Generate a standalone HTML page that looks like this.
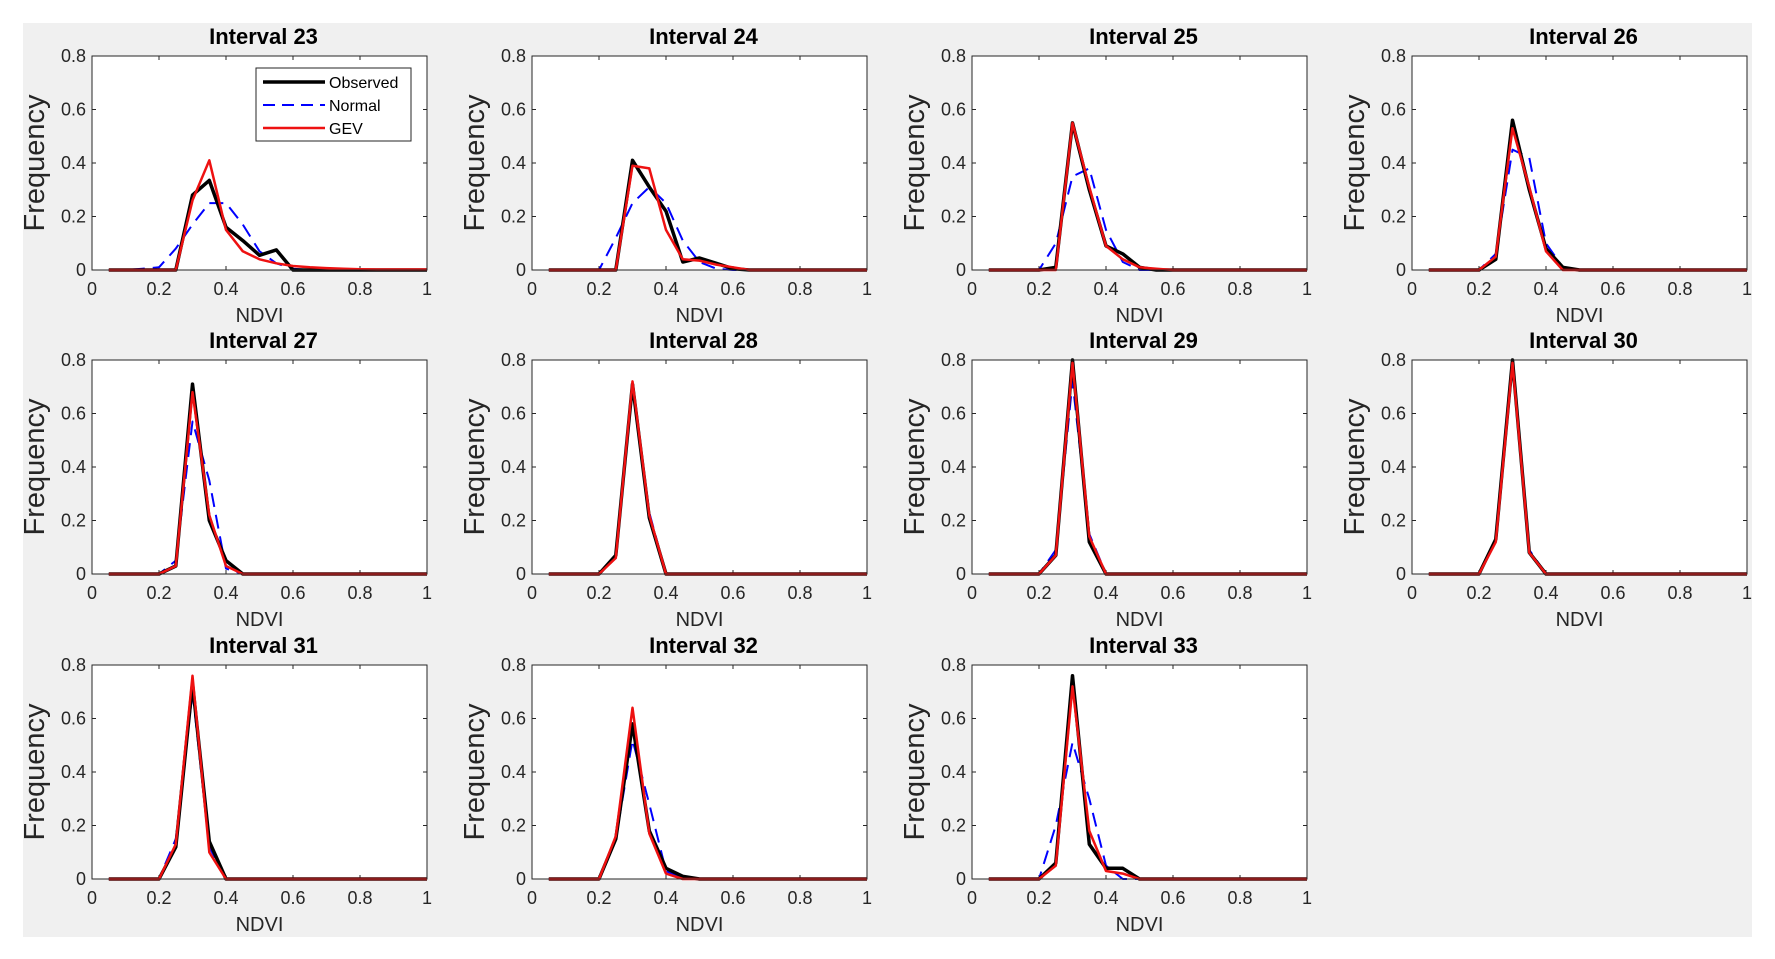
<!DOCTYPE html>
<html><head><meta charset="utf-8"><style>
html,body{margin:0;padding:0;background:#fff;}
svg{display:block;font-family:"Liberation Sans",Arial,sans-serif;}
</style></head><body>
<svg id="chart" width="1775" height="959" viewBox="0 0 1775 959" xmlns="http://www.w3.org/2000/svg">
<rect x="23" y="23" width="1729" height="914" fill="#f0f0f0"/>
</svg>
<script>
const xValues=[0.05,0.1,0.15,0.2,0.25,0.3,0.35,0.4,0.45,0.5,0.55,0.6,0.65,0.7,0.75,0.8,0.85,0.9,0.95,1.0];
const intervals=[23,24,25,26,27,28,29,30,31,32,33];
const xTicks=[0,0.2,0.4,0.6,0.8,1];
const xTickLabels=["0","0.2","0.4","0.6","0.8","1"];
const yTicks=[0,0.2,0.4,0.6,0.8];
const yTickLabels=["0","0.2","0.4","0.6","0.8"];
const observed=[
[0,0,0,0,0,0.28,0.335,0.16,0.11,0.055,0.075,0,0,0,0,0,0,0,0,0],
[0,0,0,0,0,0.41,0.31,0.22,0.03,0.045,0.025,0.005,0,0,0,0,0,0,0,0],
[0,0,0,0,0.01,0.55,0.3,0.09,0.06,0.01,0,0,0,0,0,0,0,0,0,0],
[0,0,0,0,0.04,0.56,0.3,0.08,0.01,0,0,0,0,0,0,0,0,0,0,0],
[0,0,0,0,0.03,0.71,0.2,0.05,0,0,0,0,0,0,0,0,0,0,0,0],
[0,0,0,0,0.07,0.71,0.21,0,0,0,0,0,0,0,0,0,0,0,0,0],
[0,0,0,0,0.07,0.8,0.12,0,0,0,0,0,0,0,0,0,0,0,0,0],
[0,0,0,0,0.13,0.8,0.08,0,0,0,0,0,0,0,0,0,0,0,0,0],
[0,0,0,0,0.12,0.73,0.14,0,0,0,0,0,0,0,0,0,0,0,0,0],
[0,0,0,0,0.15,0.58,0.18,0.04,0.01,0,0,0,0,0,0,0,0,0,0,0],
[0,0,0,0,0.06,0.76,0.13,0.04,0.04,0,0,0,0,0,0,0,0,0,0,0]];
const normal=[
[0,0,0.005,0.01,0.08,0.17,0.25,0.25,0.17,0.07,0.025,0.005,0,0,0,0,0,0,0,0],
[0,0,0,0,0.12,0.25,0.31,0.25,0.11,0.03,0.005,0,0,0,0,0,0,0,0,0],
[0,0,0,0,0.1,0.35,0.38,0.15,0.03,0,0,0,0,0,0,0,0,0,0,0],
[0,0,0,0,0.06,0.45,0.42,0.1,0.01,0,0,0,0,0,0,0,0,0,0,0],
[0,0,0,0,0.05,0.57,0.35,0.02,0,0,0,0,0,0,0,0,0,0,0,0],
[0,0,0,0,0.06,0.7,0.23,0,0,0,0,0,0,0,0,0,0,0,0,0],
[0,0,0,0,0.09,0.72,0.15,0,0,0,0,0,0,0,0,0,0,0,0,0],
[0,0,0,0,0.12,0.78,0.09,0,0,0,0,0,0,0,0,0,0,0,0,0],
[0,0,0,0,0.15,0.7,0.12,0,0,0,0,0,0,0,0,0,0,0,0,0],
[0,0,0,0,0.15,0.52,0.28,0.03,0,0,0,0,0,0,0,0,0,0,0,0],
[0,0,0,0,0.2,0.51,0.3,0.05,0,0,0,0,0,0,0,0,0,0,0,0]];
const gev=[
[0,0,0,0,0,0.26,0.41,0.15,0.07,0.04,0.025,0.015,0.01,0.007,0.005,0.003,0.002,0.002,0.002,0.002],
[0,0,0,0,0,0.39,0.38,0.15,0.04,0.035,0.02,0.01,0,0,0,0,0,0,0,0],
[0,0,0,0,0,0.55,0.31,0.09,0.04,0.01,0.005,0,0,0,0,0,0,0,0,0],
[0,0,0,0,0.05,0.53,0.31,0.07,0,0,0,0,0,0,0,0,0,0,0,0],
[0,0,0,0,0.03,0.68,0.22,0.03,0,0,0,0,0,0,0,0,0,0,0,0],
[0,0,0,0,0.06,0.72,0.22,0,0,0,0,0,0,0,0,0,0,0,0,0],
[0,0,0,0,0.07,0.79,0.14,0,0,0,0,0,0,0,0,0,0,0,0,0],
[0,0,0,0,0.12,0.79,0.08,0,0,0,0,0,0,0,0,0,0,0,0,0],
[0,0,0,0,0.13,0.76,0.1,0,0,0,0,0,0,0,0,0,0,0,0,0],
[0,0,0,0,0.16,0.64,0.17,0.02,0,0,0,0,0,0,0,0,0,0,0,0],
[0,0,0,0,0.05,0.72,0.18,0.03,0.02,0,0,0,0,0,0,0,0,0,0,0]];

const NS="http://www.w3.org/2000/svg";
const svg=document.getElementById('chart');
const colL=[92,532,972,1412], colW=335;
const rowT=[56,360,665], rowH=214;
function mk(tag,attrs,parent){const e=document.createElementNS(NS,tag);for(const k in attrs)e.setAttribute(k,attrs[k]);(parent||svg).appendChild(e);return e;}

intervals.forEach((iv,i)=>{
  const c=i%4,r=Math.floor(i/4);
  const L=colL[c],T=rowT[r],W=colW,H=rowH;
  const sx=v=>L+v*W, sy=v=>T+H-(v/0.8)*H;
  const g=mk('g',{});
  
  
  const bg=mk('rect',{x:L,y:T,width:W,height:H,fill:'#fff'},g);
  
  
  xTicks.forEach((t,k)=>{
    mk('line',{x1:sx(t),x2:sx(t),y1:T+H,y2:T+H-4,stroke:'#262626'},g);
    mk('line',{x1:sx(t),x2:sx(t),y1:T,y2:T+4,stroke:'#262626'},g);
    const tx=mk('text',{x:sx(t),y:T+H+25,'text-anchor':'middle','font-size':18,fill:'#262626'},g);
    tx.textContent=xTickLabels[k];
    
    
  });
  yTicks.forEach((t,k)=>{
    mk('line',{x1:L,x2:L+4,y1:sy(t),y2:sy(t),stroke:'#262626'},g);
    mk('line',{x1:L+W,x2:L+W-4,y1:sy(t),y2:sy(t),stroke:'#262626'},g);
    const ty=mk('text',{x:L-6,y:sy(t)+6,'text-anchor':'end','font-size':18,fill:'#262626'},g);
    ty.textContent=yTickLabels[k];
    
    
  });
  const series=[[normal[i],'#0000ff',2,'14,8'],[observed[i],'#000',3.5,null],[gev[i],'#ee1111',2.5,null]];
  const names=['normal-line','observed-line','gev-line'];
  series.forEach((s,k)=>{
    const pts=s[0].map((v,j)=>sx(xValues[j]).toFixed(1)+','+sy(v).toFixed(1)).join(' ');
    const a={points:pts,fill:'none',stroke:s[1],'stroke-width':s[2],'stroke-linejoin':'round'};
    if(s[3])a['stroke-dasharray']=s[3];
    const pl=mk('polyline',a,g);
    
    
  });
  const fr=mk('rect',{x:L,y:T,width:W,height:H,fill:'none',stroke:'#262626','stroke-width':1},g);
  
  
  const ti=mk('text',{x:L+W/2+4,y:T-12,'text-anchor':'middle','font-size':22,'font-weight':'bold',fill:'#000'},g);
  ti.textContent='Interval '+iv;
  
  
  const xl=mk('text',{x:L+W/2,y:T+H+52,'text-anchor':'middle','font-size':20,fill:'#262626'},g);
  xl.textContent='NDVI';
  
  
  const yl=mk('text',{x:0,y:0,'text-anchor':'middle','font-size':29,fill:'#262626',transform:'translate('+(L-48)+','+(T+H/2)+') rotate(-90)'},g);
  yl.textContent='Frequency';
  
  
  if(i===0){
    const lg=mk('g',{},g);
    
    
    mk('rect',{x:256,y:68,width:155,height:73,fill:'#fff',stroke:'#262626'},lg);
    const items=[['Observed','#000',3.5,null],['Normal','#0000ff',2,'12,7'],['GEV','#ee1111',2.5,null]];
    items.forEach((it,k)=>{
      const y=82+k*23;
      const a={x1:263,x2:325,y1:y,y2:y,stroke:it[1],'stroke-width':it[2]};
      if(it[3])a['stroke-dasharray']=it[3];
      mk('line',a,lg);
      const t=mk('text',{x:329,y:y+6,'font-size':16,fill:'#000'},lg);
      t.textContent=it[0];
      
      
    });
  }
});
</script>
</body></html>
